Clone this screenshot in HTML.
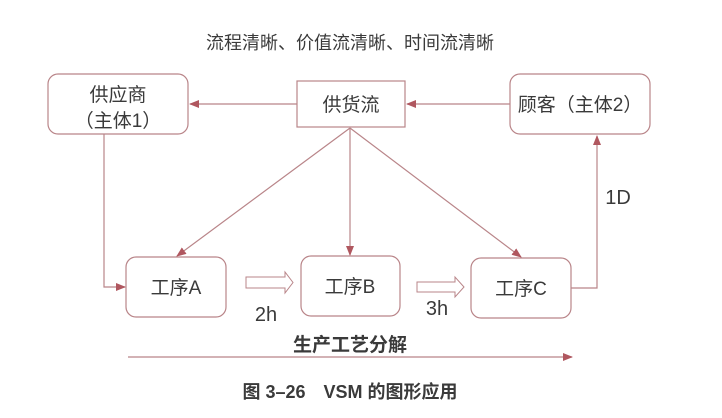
<!DOCTYPE html>
<html><head><meta charset="utf-8"><style>
html,body{margin:0;padding:0;background:#fff;}
svg{display:block;}
text{font-family:"Liberation Sans","Noto Sans CJK SC",sans-serif;fill:#3a3a3a;}
</style></head><body>
<svg width="722" height="418" viewBox="0 0 722 418" xmlns="http://www.w3.org/2000/svg">
<defs>
<marker id="ar" markerWidth="10" markerHeight="8" refX="9" refY="4" orient="auto" markerUnits="userSpaceOnUse">
<path d="M0,0 L10,4 L0,8 z" fill="#b0575f"/>
</marker>
</defs>
<text x="350" y="49" font-size="18" text-anchor="middle" fill="#444">流程清晰、价值流清晰、时间流清晰</text>
<g fill="#fff" stroke="#b98589" stroke-width="1.2">
<rect x="48" y="74" width="140" height="60" rx="10"/>
<rect x="297" y="81" width="108" height="46"/>
<rect x="510" y="74" width="140" height="60" rx="10"/>
<rect x="126" y="257" width="100" height="60" rx="10"/>
<rect x="301" y="256" width="99" height="60" rx="10"/>
<rect x="471" y="258" width="100" height="60" rx="10"/>
</g>
<g stroke="#b98589" stroke-width="1.2" fill="none">
<line x1="297" y1="104" x2="190" y2="104" marker-end="url(#ar)"/>
<line x1="510" y1="104" x2="407" y2="104" marker-end="url(#ar)"/>
<line x1="350" y1="128" x2="177" y2="256" marker-end="url(#ar)"/>
<line x1="350" y1="128" x2="350" y2="255" marker-end="url(#ar)"/>
<line x1="350" y1="128" x2="521" y2="257" marker-end="url(#ar)"/>
<polyline points="104,134 104,287 125,287" marker-end="url(#ar)"/>
<polyline points="571,288 597,288 597,136" marker-end="url(#ar)"/>
<line x1="128" y1="357" x2="572" y2="357" marker-end="url(#ar)"/>
<path d="M246,277 L285,277 L285,272 L293,282.5 L285,293 L285,288 L246,288 z" stroke-width="1"/>
<path d="M417,282 L455,282 L455,277 L464,287 L455,297 L455,292 L417,292 z" stroke-width="1"/>
</g>
<g font-size="19" text-anchor="middle">
<text x="118" y="101">供应商</text>
<text x="118" y="127">（主体1）</text>
<text x="351" y="111">供货流</text>
<text x="580" y="111">顾客（主体2）</text>
<text x="176" y="294">工序A</text>
<text x="350" y="293">工序B</text>
<text x="521" y="295">工序C</text>
<text x="266" y="321" font-size="20">2h</text>
<text x="437" y="315" font-size="20">3h</text>
<text x="618" y="204" font-size="20">1D</text>
</g>
<text x="350" y="351" font-size="19" font-weight="bold" text-anchor="middle" fill="#444">生产工艺分解</text>
<text x="350" y="398" font-size="18" font-weight="bold" text-anchor="middle" fill="#333">图 3–26　VSM 的图形应用</text>
</svg>
</body></html>
